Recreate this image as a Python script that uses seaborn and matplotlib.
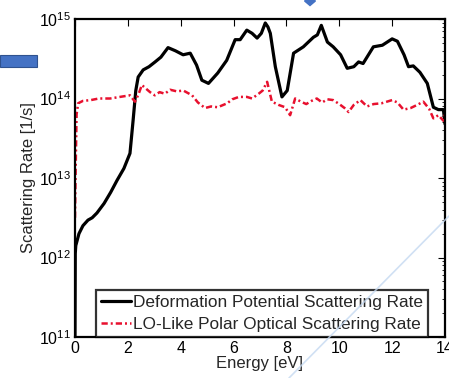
import numpy as np
import pandas as pd
import matplotlib.pyplot as plt
import matplotlib.lines as mlines
import matplotlib.patches as mpatches
import seaborn as sns

# Energy [eV] and log10 of scattering rate [1/s]
dp_energy = [0.0, 0.01, 0.03, 0.15, 0.3, 0.49, 0.65, 0.83, 1.1, 1.35, 1.59, 1.85, 2.08, 2.2, 2.3,
             2.39, 2.58, 2.8, 3.03, 3.25, 3.52, 3.8, 4.09, 4.36, 4.6, 4.8, 5.05, 5.4, 5.74, 6.06,
             6.25, 6.5, 6.7, 6.89, 7.05, 7.2, 7.3, 7.39, 7.58, 7.83, 8.03, 8.27, 8.64, 9.02,
             9.17, 9.32, 9.55, 9.77, 10.05, 10.3, 10.55, 10.73, 10.9, 11.29, 11.63, 12.0, 12.2,
             12.45, 12.62, 12.8, 13.05, 13.33, 13.56, 13.75, 13.94, 14.0]
dp_lograte = [11.0, 12.05, 12.15, 12.3, 12.4, 12.47, 12.5, 12.56, 12.68, 12.82, 12.97, 13.12, 13.31, 13.73, 14.1,
              14.27, 14.36, 14.4, 14.46, 14.52, 14.64, 14.6, 14.55, 14.57, 14.42, 14.23, 14.19, 14.32, 14.48, 14.74,
              14.74, 14.86, 14.82, 14.76, 14.82, 14.95, 14.9, 14.82, 14.4, 14.02, 14.1, 14.57, 14.65, 14.77,
              14.8, 14.92, 14.71, 14.65, 14.55, 14.38, 14.4, 14.46, 14.44, 14.65, 14.67, 14.75, 14.72,
              14.55, 14.4, 14.41, 14.33, 14.19, 13.89, 13.86, 13.86, 13.68]

lo_energy = [0.0, 0.02, 0.06, 0.12, 0.3, 0.6, 0.9, 1.33, 1.7, 2.08, 2.27, 2.4, 2.53, 2.7, 2.84, 3.02,
             3.2, 3.4, 3.6, 3.85, 4.1, 4.43, 4.65, 4.92, 5.15, 5.4, 5.76, 5.95, 6.2, 6.5, 6.7, 6.95,
             7.1, 7.27, 7.45, 7.7, 7.95, 8.14, 8.33, 8.55, 8.75, 8.95, 9.15, 9.35, 9.55, 9.77, 10.0,
             10.2, 10.35, 10.55, 10.8, 11.05, 11.3, 11.6, 11.8, 12.0, 12.2, 12.43, 12.7, 12.95, 13.18,
             13.4, 13.56, 13.75, 13.94, 14.0]
lo_lograte = [12.5, 13.0, 13.8, 13.94, 13.97, 13.98, 14.0, 14.0, 14.02, 14.04, 13.96, 14.05, 14.17, 14.12, 14.08, 14.04,
              14.08, 14.06, 14.11, 14.09, 14.1, 14.04, 13.95, 13.88, 13.9, 13.89, 13.94, 13.99, 14.02, 14.02, 14.0, 14.06,
              14.1, 14.21, 13.96, 13.92, 13.89, 13.79, 14.0, 13.96, 13.93, 13.97, 14.0, 13.95, 13.99, 13.98, 13.93,
              13.88, 13.83, 13.92, 13.98, 13.9, 13.93, 13.94, 13.96, 13.98, 13.95, 13.86, 13.88, 13.92, 13.96,
              13.87, 13.75, 13.79, 13.72, 13.8]

dp_label = 'Deformation Potential Scattering Rate'
lo_label = 'LO-Like Polar Optical Scattering Rate'
x_ticks = [0, 2, 4, 6, 8, 10, 12, 14]

dp = pd.DataFrame({'Energy': dp_energy, 'Rate': 10.0 ** np.array(dp_lograte)})
lo = pd.DataFrame({'Energy': lo_energy, 'Rate': 10.0 ** np.array(lo_lograte)})

sns.set_style('white')
plt.rcParams['font.family'] = ['Liberation Sans', 'DejaVu Sans']
plt.rcParams['mathtext.fontset'] = 'custom'
plt.rcParams['mathtext.rm'] = 'Liberation Sans'

fig = plt.figure(figsize=(4.49, 3.78), dpi=100)
ax = fig.add_axes([75 / 449, 41 / 378, 370 / 449, 318 / 378])

sns.lineplot(data=dp, x='Energy', y='Rate', ax=ax, color='black', lw=2.3,
             sort=False, estimator=None, label=dp_label)
sns.lineplot(data=lo, x='Energy', y='Rate', ax=ax, color='#e8102e', lw=1.8,
             linestyle=(0, (2.5, 1.2, 0.8, 1.2)), sort=False, estimator=None, label=lo_label)

ax.set_yscale('log')
ax.set_xlim(0, 14)
ax.set_ylim(1e11, 1e15)
ax.set_xticks(x_ticks)
ax.set_xlabel('Energy [eV]', fontsize=12, labelpad=0)
ax.set_ylabel('Scattering Rate [1/s]', fontsize=12, labelpad=2)
ax.tick_params(axis='both', which='both', direction='in', top=True, right=True,
               labelsize=11.5, pad=3, colors='black')
ax.tick_params(which='major', length=5, width=0.8)
ax.tick_params(which='minor', length=2.5, width=0.6)
for s in ax.spines.values():
    s.set_color('black')
    s.set_linewidth(1.6)

leg = ax.legend(loc='lower right', fontsize=12.4, frameon=True, fancybox=False,
                edgecolor='black', borderpad=0.3, labelspacing=0.4, handlelength=1.75,
                handletextpad=0.1, borderaxespad=0.0, bbox_to_anchor=(0.954, 0.0))
leg.get_frame().set_linewidth(1.6)

# slide decorations around the picture
fig.patches.append(mpatches.Rectangle((0, 1 - 67 / 378), 37 / 449, 12 / 378,
                                      transform=fig.transFigure, facecolor='#4472c4',
                                      edgecolor='#2f528f', lw=0.8, zorder=5))
fig.patches.append(mpatches.RegularPolygon((310 / 449, 1 - 1 / 378), 4, radius=0.012,
                                           transform=fig.transFigure, color='#4472c4', zorder=5))
fig.lines.append(mlines.Line2D([449 / 449, 289 / 449], [1 - 216 / 378, 0], transform=fig.transFigure,
                               color='#c5d9f1', lw=1.2, alpha=0.8, zorder=0))

fig.savefig('out.png', dpi=100)
